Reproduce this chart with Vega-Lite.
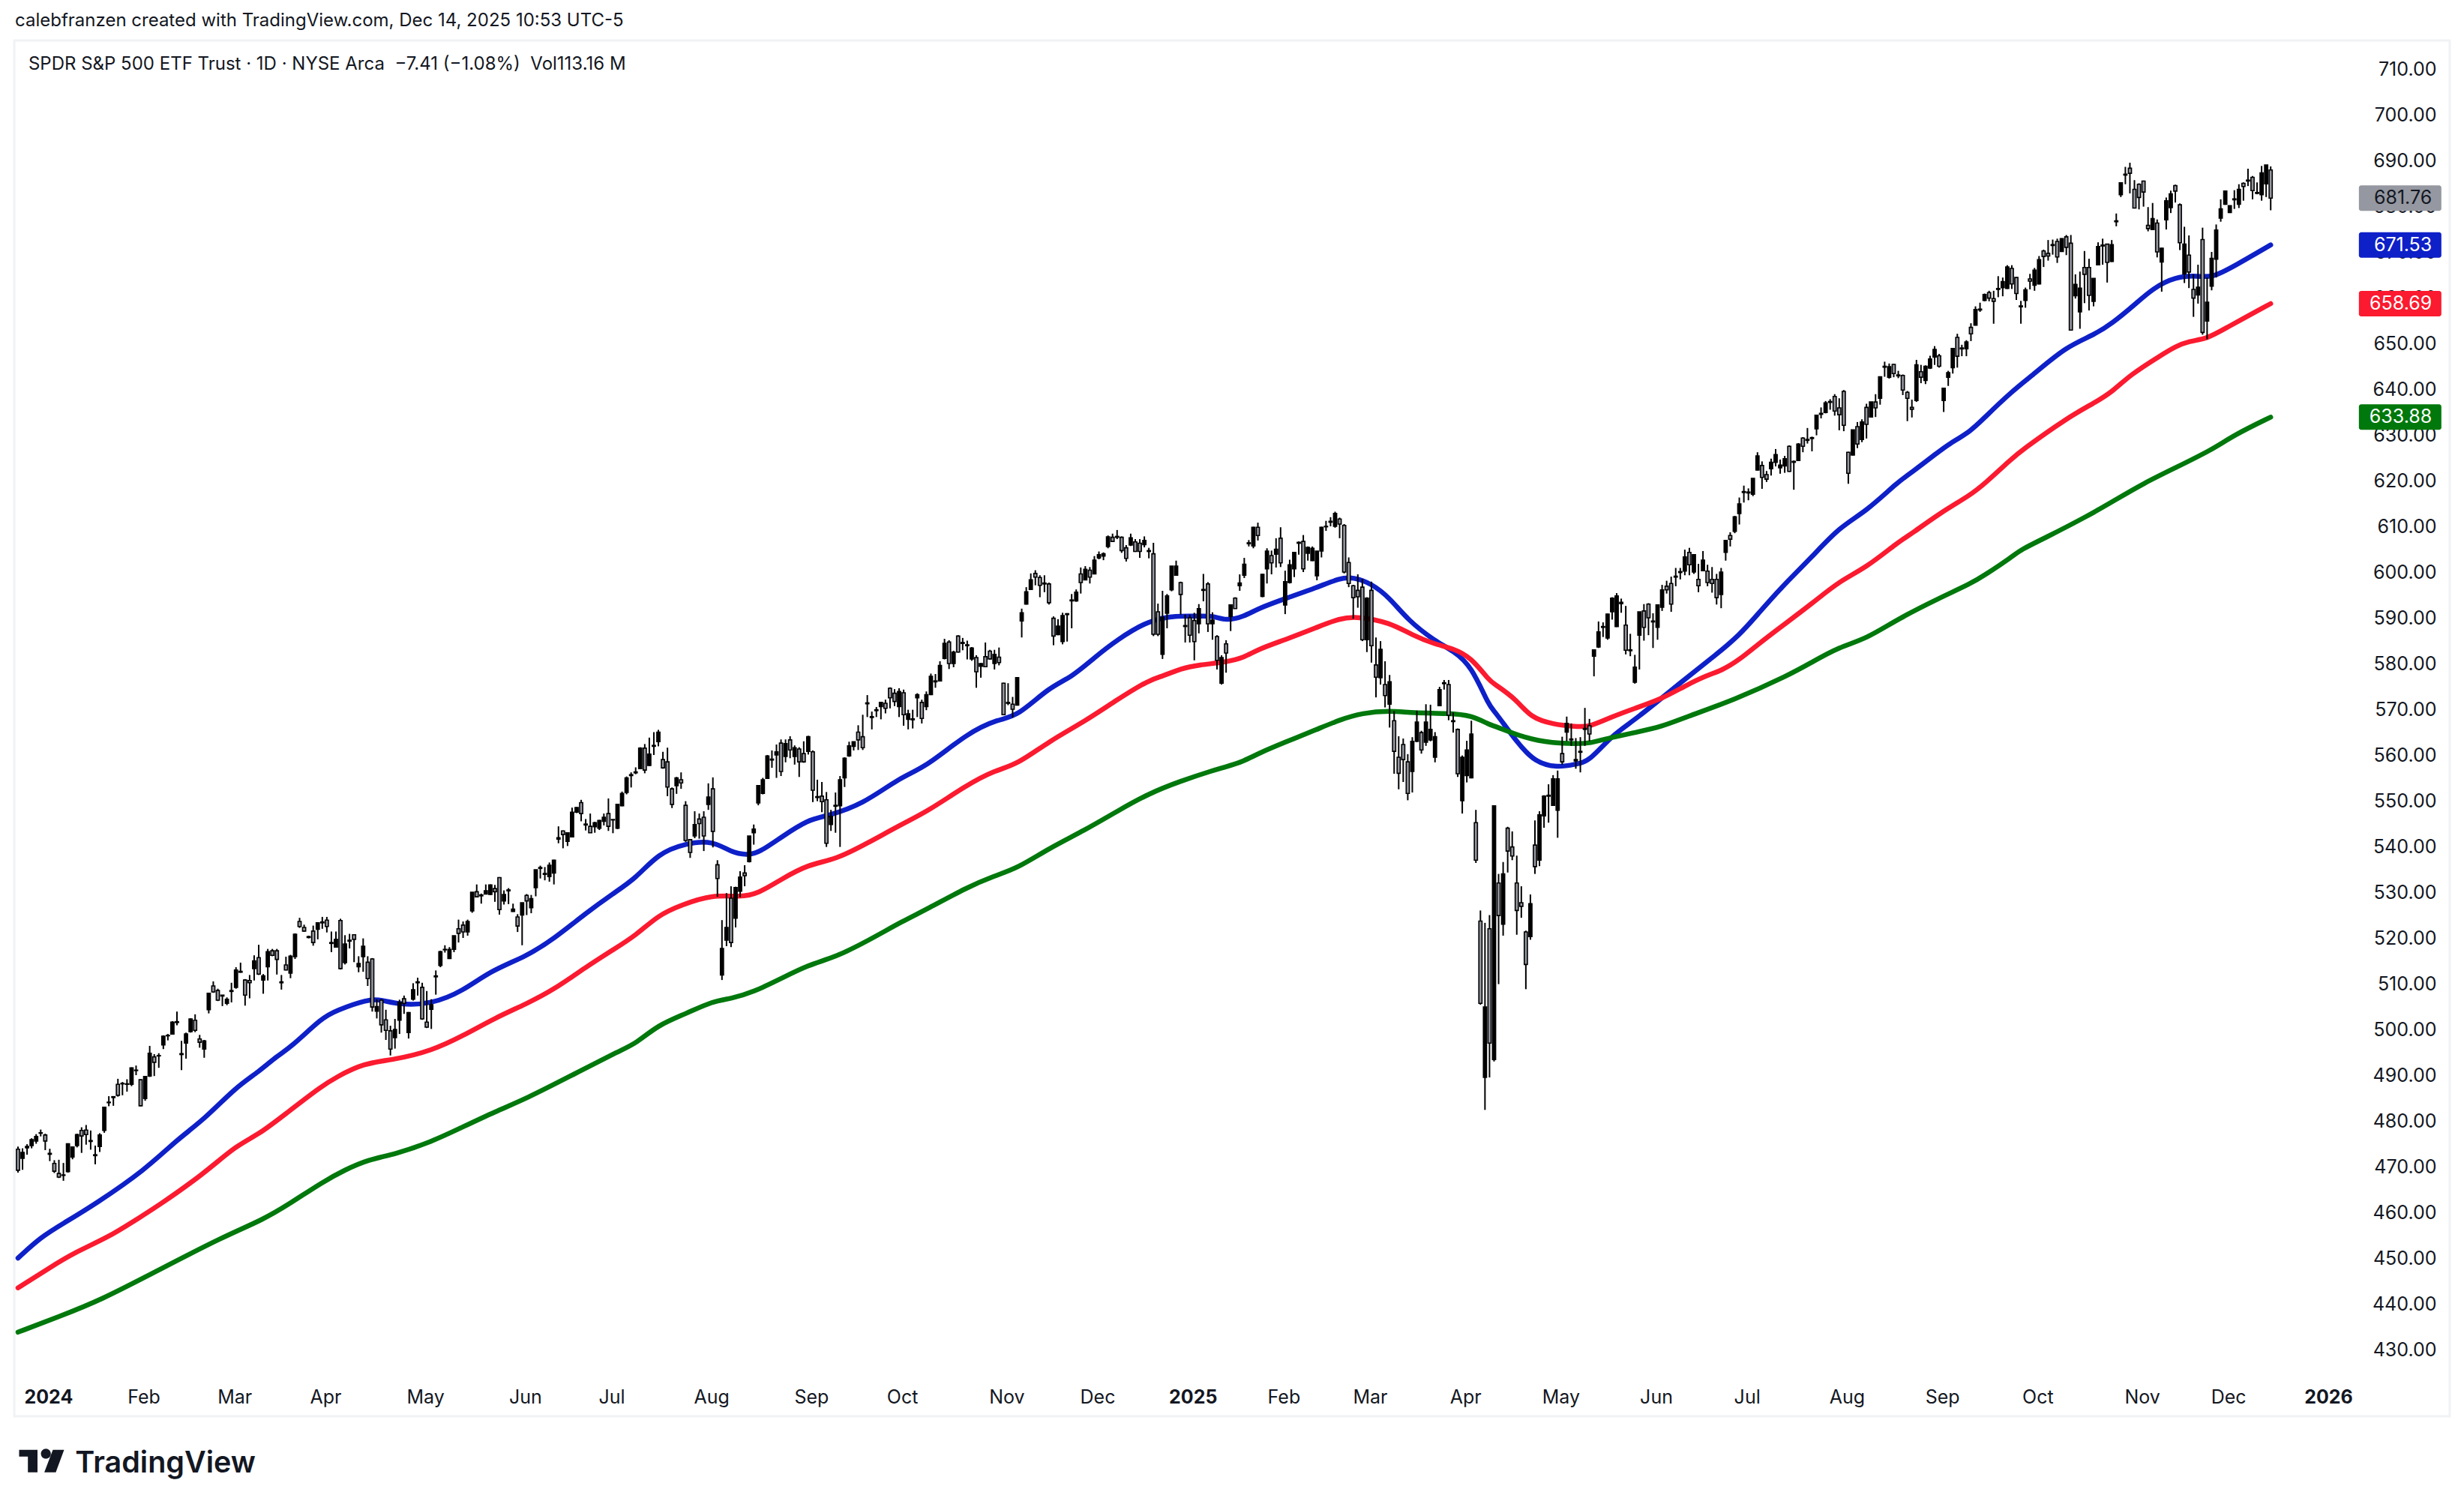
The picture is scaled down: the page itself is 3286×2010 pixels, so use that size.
{
"$schema":"https://vega.github.io/schema/vega-lite/v6.json",
"autosize":{"type":"none"},
"padding":{"left":19,"top":54,"right":19,"bottom":121},
"width":3248,
"height":1835,
"background":"white",
"title":{"text":"calebfranzen created with TradingView.com, Dec 14, 2025 10:53 UTC-5","anchor":"start","frame":"group","font":"Inter","fontSize":24,"fontWeight":"normal","color":"#131722","offset":14,"dx":1},
"config":{"view":{"stroke":"#f1f2f4","strokeWidth":3},"text":{"font":"Inter"}},
"datasets":{
"blue":[{"i":0,"v":450},{"i":5,"v":454.6},{"i":10,"v":457.6},{"i":17,"v":461.8},{"i":28,"v":469.3},{"i":35,"v":475.9},{"i":41,"v":480.3},{"i":48,"v":487.4},{"i":53,"v":490.7},{"i":57,"v":494.2},{"i":60,"v":496},{"i":67,"v":502.6},{"i":70,"v":504.1},{"i":77,"v":506.6},{"i":80,"v":506.5},{"i":84,"v":505.4},{"i":91,"v":505.5},{"i":98,"v":508.4},{"i":104,"v":512.8},{"i":112,"v":516},{"i":118,"v":519.8},{"i":125,"v":525.4},{"i":131,"v":529.7},{"i":136,"v":533},{"i":141,"v":538.5},{"i":147,"v":540.7},{"i":153,"v":541.3},{"i":157,"v":538.7},{"i":161,"v":538},{"i":164,"v":539.2},{"i":168,"v":542},{"i":174,"v":545.9},{"i":178,"v":546.6},{"i":186,"v":549.2},{"i":194,"v":555},{"i":200,"v":557.4},{"i":209,"v":564.8},{"i":216,"v":567.9},{"i":220,"v":568.4},{"i":227,"v":574.8},{"i":232,"v":577},{"i":237,"v":581.3},{"i":242,"v":585.2},{"i":249,"v":589.5},{"i":255,"v":590.5},{"i":260,"v":590.3},{"i":263,"v":590.5},{"i":266,"v":589.3},{"i":270,"v":590.3},{"i":273,"v":592},{"i":279,"v":594.2},{"i":286,"v":596.6},{"i":291,"v":598.7},{"i":294,"v":598.9},{"i":298,"v":597.5},{"i":302,"v":594.4},{"i":306,"v":589.5},{"i":312,"v":584.9},{"i":316,"v":582.8},{"i":320,"v":579.5},{"i":324,"v":570.5},{"i":325,"v":569.8},{"i":330,"v":562.8},{"i":334,"v":558.4},{"i":339,"v":557.2},{"i":343,"v":558},{"i":346,"v":558.6},{"i":351,"v":564.4},{"i":356,"v":567.6},{"i":367,"v":576.6},{"i":374,"v":582},{"i":379,"v":586.2},{"i":383,"v":590.7},{"i":388,"v":596.4},{"i":395,"v":603.3},{"i":401,"v":609.8},{"i":407,"v":613.3},{"i":414,"v":619.8},{"i":417,"v":621.8},{"i":423,"v":626.4},{"i":425,"v":627.9},{"i":430,"v":630.8},{"i":433,"v":633.8},{"i":439,"v":639.5},{"i":444,"v":643.4},{"i":451,"v":649.3},{"i":457,"v":651.8},{"i":461,"v":654.3},{"i":466,"v":658.4},{"i":470,"v":662},{"i":475,"v":664.6},{"i":480,"v":664.8},{"i":483,"v":664.3},{"i":488,"v":666.9},{"i":496,"v":671.53}],
"red":[{"i":0,"v":443.5},{"i":7,"v":447.9},{"i":12,"v":451},{"i":20,"v":454.6},{"i":26,"v":458.4},{"i":31,"v":461.5},{"i":41,"v":468.5},{"i":48,"v":474.6},{"i":53,"v":477},{"i":59,"v":481.6},{"i":67,"v":487.7},{"i":70,"v":489.5},{"i":76,"v":492.6},{"i":83,"v":493.4},{"i":91,"v":495.3},{"i":98,"v":498.6},{"i":105,"v":502.5},{"i":112,"v":505.6},{"i":118,"v":508.7},{"i":125,"v":513.6},{"i":131,"v":517.4},{"i":136,"v":520.5},{"i":141,"v":525},{"i":146,"v":527.2},{"i":153,"v":529.5},{"i":159,"v":528.9},{"i":163,"v":529.7},{"i":168,"v":532.8},{"i":174,"v":536.1},{"i":180,"v":537.1},{"i":187,"v":540.7},{"i":195,"v":545.1},{"i":200,"v":547.5},{"i":209,"v":553.5},{"i":215,"v":556.6},{"i":220,"v":557.9},{"i":227,"v":563},{"i":235,"v":567.4},{"i":242,"v":572.1},{"i":249,"v":576.4},{"i":252,"v":577.2},{"i":256,"v":578.9},{"i":260,"v":579.7},{"i":266,"v":580.3},{"i":270,"v":581.3},{"i":273,"v":583.1},{"i":279,"v":585.2},{"i":286,"v":587.9},{"i":291,"v":589.9},{"i":295,"v":590.3},{"i":302,"v":589},{"i":307,"v":586.2},{"i":312,"v":584.2},{"i":316,"v":583.3},{"i":320,"v":581.3},{"i":324,"v":576.2},{"i":325,"v":575.6},{"i":330,"v":572.1},{"i":333,"v":568.2},{"i":338,"v":566.7},{"i":343,"v":566.2},{"i":346,"v":566.1},{"i":351,"v":568.4},{"i":356,"v":570.2},{"i":362,"v":572.3},{"i":367,"v":575.1},{"i":372,"v":577.5},{"i":375,"v":578.4},{"i":379,"v":580.8},{"i":383,"v":584.1},{"i":388,"v":587.9},{"i":395,"v":593.1},{"i":401,"v":598},{"i":407,"v":601},{"i":414,"v":606.6},{"i":417,"v":608.4},{"i":423,"v":612.8},{"i":430,"v":616.9},{"i":433,"v":619.3},{"i":439,"v":624.8},{"i":441,"v":626.5},{"i":451,"v":633.6},{"i":457,"v":636.9},{"i":461,"v":639.3},{"i":465,"v":643.1},{"i":472,"v":647.5},{"i":475,"v":649.3},{"i":478,"v":650.5},{"i":482,"v":651},{"i":486,"v":653.3},{"i":496,"v":658.69}],
"green":[{"i":0,"v":433.8},{"i":9,"v":437.2},{"i":18,"v":440.7},{"i":31,"v":447.4},{"i":45,"v":454.6},{"i":54,"v":458.4},{"i":60,"v":462},{"i":67,"v":466.6},{"i":72,"v":469.3},{"i":77,"v":471.5},{"i":83,"v":472.7},{"i":91,"v":475.4},{"i":98,"v":478.7},{"i":105,"v":482},{"i":112,"v":484.9},{"i":122,"v":490},{"i":133,"v":495.6},{"i":136,"v":496.9},{"i":141,"v":501},{"i":147,"v":503.4},{"i":153,"v":506.2},{"i":157,"v":506.7},{"i":162,"v":508.2},{"i":168,"v":511.1},{"i":174,"v":514.1},{"i":180,"v":515.8},{"i":187,"v":519.3},{"i":195,"v":523.8},{"i":200,"v":526.2},{"i":209,"v":531.1},{"i":215,"v":533.6},{"i":220,"v":535.2},{"i":227,"v":539.6},{"i":235,"v":543.6},{"i":242,"v":547.7},{"i":249,"v":551.6},{"i":256,"v":554.3},{"i":263,"v":556.6},{"i":266,"v":557.4},{"i":270,"v":558.7},{"i":273,"v":560.3},{"i":279,"v":562.8},{"i":286,"v":565.6},{"i":291,"v":567.7},{"i":296,"v":569.2},{"i":302,"v":569.7},{"i":307,"v":569.2},{"i":315,"v":569.1},{"i":320,"v":568.7},{"i":324,"v":566.6},{"i":325,"v":566.4},{"i":332,"v":563.6},{"i":338,"v":562.6},{"i":343,"v":562.5},{"i":346,"v":562.5},{"i":351,"v":563.9},{"i":356,"v":564.9},{"i":362,"v":566.2},{"i":367,"v":568.2},{"i":378,"v":572.1},{"i":390,"v":577.5},{"i":395,"v":580.3},{"i":401,"v":583.6},{"i":407,"v":585.4},{"i":414,"v":589.8},{"i":423,"v":594.3},{"i":430,"v":597.5},{"i":433,"v":599.3},{"i":439,"v":603.3},{"i":441,"v":604.9},{"i":446,"v":607.3},{"i":456,"v":612.4},{"i":462,"v":615.9},{"i":468,"v":619.4},{"i":475,"v":622.8},{"i":483,"v":626.7},{"i":488,"v":630},{"i":496,"v":633.88}],
"tags":[{"series":"price","value":681.76},{"series":"blue","value":671.53},{"series":"red","value":658.69},{"series":"green","value":633.88}],
"candles":[
{"i":0,"o":473.8,"h":474.4,"l":468.7,"c":469.2},{"i":1,"o":471.8,"h":474,"l":469.3,"c":473.1},{"i":2,"o":474.1,"h":474.9,"l":472.6,"c":474.4},{"i":3,"o":474.6,"h":476.2,"l":474,"c":475.9},{"i":4,"o":475.6,"h":477.1,"l":475,"c":476.6},{"i":5,"o":477.3,"h":478.1,"l":476.6,"c":477.4},{"i":6,"o":476.9,"h":477.2,"l":473.6,"c":475.6},{"i":7,"o":472.7,"h":473.9,"l":471.2,"c":472.9},{"i":8,"o":470.7,"h":471.4,"l":468.6,"c":469},{"i":9,"o":468.5,"h":471.5,"l":467.5,"c":467.7},
{"i":10,"o":468.2,"h":470.8,"l":466.9,"c":468.1},{"i":11,"o":468.9,"h":475.1,"l":468.7,"c":475},{"i":12,"o":472.1,"h":474.4,"l":471.6,"c":474.3},{"i":13,"o":474.6,"h":477.2,"l":474.2,"c":477},{"i":14,"o":477.9,"h":478.6,"l":473,"c":476.7},{"i":15,"o":478,"h":479.1,"l":474.8,"c":477},{"i":16,"o":475.7,"h":477.9,"l":473.7,"c":475.5},{"i":17,"o":472.4,"h":474.6,"l":470.5,"c":472.6},{"i":18,"o":474.4,"h":477.3,"l":473.2,"c":476.9},{"i":19,"o":477.9,"h":483.1,"l":477.4,"c":483},
{"i":20,"o":484,"h":485.4,"l":483.2,"c":484.1},{"i":21,"o":485.1,"h":485.4,"l":483.3,"c":485.3},{"i":22,"o":488,"h":489.2,"l":485.3,"c":485.6},{"i":23,"o":488.1,"h":488.5,"l":485.6,"c":488.2},{"i":24,"o":488,"h":489.1,"l":486.4,"c":488.1},{"i":25,"o":488,"h":491.7,"l":487.6,"c":491.6},{"i":26,"o":491.1,"h":492.1,"l":490,"c":491},{"i":27,"o":489,"h":489.1,"l":483.2,"c":483.3},{"i":28,"o":484.9,"h":489.8,"l":484.4,"c":489.7},{"i":29,"o":489.8,"h":496.4,"l":489.6,"c":494.8},
{"i":30,"o":494,"h":494.6,"l":489.8,"c":492.8},{"i":31,"o":494.2,"h":494.8,"l":491.6,"c":494.3},{"i":32,"o":496.6,"h":498.7,"l":495.7,"c":498.5},{"i":33,"o":498.6,"h":499,"l":497.6,"c":498.7},{"i":34,"o":499,"h":501.8,"l":498.9,"c":501.6},{"i":35,"o":501.5,"h":503.9,"l":500.9,"c":501.7},{"i":36,"o":494.5,"h":497.5,"l":491.1,"c":494.7},{"i":37,"o":497,"h":499.3,"l":493.6,"c":499},{"i":38,"o":499.5,"h":502.4,"l":499.3,"c":502.3},{"i":39,"o":502,"h":503.3,"l":499.4,"c":499.8},
{"i":40,"o":497.9,"h":498.8,"l":496,"c":497.2},{"i":41,"o":495.7,"h":497.7,"l":493.8,"c":497.5},{"i":42,"o":504.3,"h":507.9,"l":503.5,"c":507.9},{"i":43,"o":509.5,"h":510.5,"l":508,"c":508.2},{"i":44,"o":508.5,"h":508.9,"l":506.2,"c":506.4},{"i":45,"o":507.3,"h":507.5,"l":505.1,"c":507.5},{"i":46,"o":505.7,"h":507,"l":505.3,"c":506.6},{"i":47,"o":508.3,"h":510.2,"l":505.9,"c":508.5},{"i":48,"o":509.2,"h":513.6,"l":508.9,"c":513},{"i":49,"o":512.5,"h":514.6,"l":512.4,"c":512.7},
{"i":50,"o":510.8,"h":511,"l":505.2,"c":507.5},{"i":51,"o":510.7,"h":511.9,"l":506.8,"c":510.2},{"i":52,"o":513.3,"h":516.2,"l":510.7,"c":515},{"i":53,"o":515.7,"h":518.5,"l":511.9,"c":512.1},{"i":54,"o":510.8,"h":512.1,"l":507.8,"c":511.7},{"i":55,"o":513.7,"h":517.6,"l":510.7,"c":517},{"i":56,"o":517.2,"h":517.6,"l":516,"c":516.2},{"i":57,"o":517.2,"h":517.6,"l":512,"c":515.3},{"i":58,"o":510.2,"h":511.9,"l":508.7,"c":510.4},{"i":59,"o":514.1,"h":515.9,"l":512.9,"c":513},
{"i":60,"o":512.3,"h":516.3,"l":511.2,"c":516},{"i":61,"o":515.9,"h":521,"l":515.4,"c":520.8},{"i":62,"o":523.6,"h":524.4,"l":522.2,"c":522.5},{"i":63,"o":522.3,"h":522.9,"l":521.4,"c":521.5},{"i":64,"o":520.3,"h":520.5,"l":519.9,"c":520.1},{"i":65,"o":521.5,"h":522.7,"l":518.3,"c":519},{"i":66,"o":521.9,"h":523.4,"l":519.7,"c":523.3},{"i":67,"o":523.3,"h":524.6,"l":522,"c":523.5},{"i":68,"o":523.9,"h":524.6,"l":521.2,"c":522.5},{"i":69,"o":518.8,"h":521.4,"l":516.9,"c":519},
{"i":70,"o":518,"h":521.4,"l":517.9,"c":519.7},{"i":71,"o":523.8,"h":524.2,"l":513.1,"c":513.3},{"i":72,"o":514.6,"h":520.6,"l":514.2,"c":518.7},{"i":73,"o":519.3,"h":520.9,"l":517.7,"c":519.5},{"i":74,"o":520.7,"h":520.8,"l":514.7,"c":519.7},{"i":75,"o":513.7,"h":516,"l":512.5,"c":514.4},{"i":76,"o":515.9,"h":519.9,"l":512.6,"c":518.2},{"i":77,"o":514.7,"h":516,"l":509.5,"c":511.1},{"i":78,"o":515.4,"h":515.6,"l":503.9,"c":504.9},{"i":79,"o":504,"h":506.6,"l":502.4,"c":505},
{"i":80,"o":506.4,"h":506.6,"l":499.3,"c":501},{"i":81,"o":502.1,"h":504.3,"l":497.7,"c":499.8},{"i":82,"o":499.7,"h":500.8,"l":494.3,"c":495.7},{"i":83,"o":498.2,"h":502.3,"l":495.8,"c":500},{"i":84,"o":502,"h":506.5,"l":499,"c":505.9},{"i":85,"o":506.7,"h":507.4,"l":503.4,"c":505.7},{"i":86,"o":499.3,"h":503.8,"l":498,"c":503.7},{"i":87,"o":506.6,"h":510.1,"l":506.3,"c":508.7},{"i":88,"o":510.2,"h":511.3,"l":507.4,"c":510.4},{"i":89,"o":509.2,"h":510.2,"l":502.1,"c":502.3},
{"i":90,"o":501.6,"h":508.4,"l":500.3,"c":500.5},{"i":91,"o":504.4,"h":506.6,"l":500.1,"c":505.4},{"i":92,"o":511.5,"h":512.9,"l":507.6,"c":511.7},{"i":93,"o":514,"h":517.2,"l":513.6,"c":517},{"i":94,"o":517.4,"h":518.4,"l":516.8,"c":517.5},{"i":95,"o":515.5,"h":518,"l":515.4,"c":517.5},{"i":96,"o":517.5,"h":520.5,"l":516.9,"c":520.5},{"i":97,"o":522,"h":524,"l":519,"c":521},{"i":98,"o":522.8,"h":523.6,"l":520,"c":521.3},{"i":99,"o":521.3,"h":524,"l":520.5,"c":523.6},
{"i":100,"o":525.9,"h":530,"l":525.5,"c":530},{"i":101,"o":530.1,"h":531.7,"l":528.9,"c":529},{"i":102,"o":529.2,"h":529.7,"l":527.5,"c":529.4},{"i":103,"o":529.6,"h":531.7,"l":529.5,"c":530.3},{"i":104,"o":529.5,"h":531.7,"l":529.4,"c":531.6},{"i":105,"o":530.8,"h":531.6,"l":527.9,"c":530.1},{"i":106,"o":533.2,"h":533.3,"l":525.1,"c":526.2},{"i":107,"o":528.1,"h":530.4,"l":527.3,"c":529.5},{"i":108,"o":530.3,"h":530.9,"l":527.4,"c":530.5},{"i":109,"o":525.8,"h":527.5,"l":525.7,"c":526.3},
{"i":110,"o":524.6,"h":525.2,"l":521.3,"c":522.6},{"i":111,"o":525,"h":527.7,"l":518.4,"c":527.7},{"i":112,"o":529.3,"h":529.6,"l":525,"c":528.1},{"i":113,"o":526.6,"h":529.4,"l":525.4,"c":528.6},{"i":114,"o":531,"h":534.9,"l":529.1,"c":534.9},{"i":115,"o":535.2,"h":535.8,"l":533,"c":535.4},{"i":116,"o":533.9,"h":535.5,"l":532.6,"c":534.1},{"i":117,"o":533.4,"h":536.5,"l":532.3,"c":535.9},{"i":118,"o":534.2,"h":537.1,"l":531.7,"c":537},{"i":119,"o":541.6,"h":544.4,"l":540.7,"c":541.9},
{"i":120,"o":543.4,"h":543.5,"l":539.6,"c":542.6},{"i":121,"o":541.1,"h":543.1,"l":540.1,"c":543},{"i":122,"o":542.1,"h":548.5,"l":542,"c":547.5},{"i":123,"o":547.5,"h":548.6,"l":547.3,"c":548.5},{"i":124,"o":549.6,"h":550.2,"l":545.5,"c":547.2},{"i":125,"o":544.7,"h":546,"l":543.5,"c":544.9},{"i":126,"o":544.4,"h":547.2,"l":543,"c":543},{"i":127,"o":544.3,"h":545.4,"l":543,"c":545.2},{"i":128,"o":544,"h":545.8,"l":543.6,"c":545.7},{"i":129,"o":545.5,"h":547.2,"l":544.6,"c":546.4},
{"i":130,"o":547.2,"h":550.5,"l":543.4,"c":544.4},{"i":131,"o":545.8,"h":545.9,"l":542.9,"c":545.9},{"i":132,"o":544,"h":549.3,"l":543.8,"c":549.2},{"i":133,"o":548.9,"h":552,"l":548.8,"c":551.6},{"i":134,"o":551.8,"h":555.3,"l":551.4,"c":555},{"i":135,"o":555.5,"h":556.2,"l":552.9,"c":555.7},{"i":136,"o":556.1,"h":557.3,"l":555.8,"c":556.3},{"i":137,"o":557,"h":561.7,"l":556.9,"c":561.5},{"i":138,"o":561.5,"h":562.4,"l":556,"c":556.7},{"i":139,"o":557.7,"h":563.8,"l":557.6,"c":560.2},
{"i":140,"o":561.9,"h":565,"l":560,"c":562.1},{"i":141,"o":562.9,"h":565.5,"l":561.9,"c":565},{"i":142,"o":559,"h":560.7,"l":557,"c":557.2},{"i":143,"o":558.5,"h":561.6,"l":551,"c":553},{"i":144,"o":552.6,"h":552.9,"l":548.4,"c":549.2},{"i":145,"o":553.3,"h":555.2,"l":551.5,"c":555},{"i":146,"o":554.6,"h":556.2,"l":552.6,"c":553.9},{"i":147,"o":549,"h":549.9,"l":541,"c":541.3},{"i":148,"o":541.5,"h":541.6,"l":537.5,"c":538.7},{"i":149,"o":542.3,"h":547.7,"l":541.8,"c":544.8},
{"i":150,"o":546,"h":547.2,"l":541.7,"c":545},{"i":151,"o":546.4,"h":547.7,"l":539,"c":542.3},{"i":152,"o":549.2,"h":553.8,"l":548,"c":550.8},{"i":153,"o":552.6,"h":555.1,"l":539.8,"c":543.3},{"i":154,"o":536,"h":537,"l":529,"c":533},{"i":155,"o":511.9,"h":523.9,"l":510.8,"c":517.7},{"i":156,"o":519.5,"h":529.8,"l":518.2,"c":522.3},{"i":157,"o":528.7,"h":531.3,"l":518,"c":519},{"i":158,"o":524.3,"h":531.2,"l":522.3,"c":531},{"i":159,"o":530.2,"h":534.6,"l":528.9,"c":533.3},
{"i":160,"o":534.2,"h":535.9,"l":531.3,"c":533.6},{"i":161,"o":536.7,"h":542.3,"l":536.5,"c":542.3},{"i":162,"o":543,"h":544.8,"l":540.4,"c":543.8},{"i":163,"o":549.5,"h":553.4,"l":549,"c":553.3},{"i":164,"o":551.6,"h":555,"l":551.4,"c":554.6},{"i":165,"o":554.9,"h":560,"l":554.8,"c":559.8},{"i":166,"o":558.9,"h":561,"l":557.2,"c":559.1},{"i":167,"o":560,"h":562.3,"l":555,"c":560.7},{"i":168,"o":562.6,"h":563.4,"l":555.4,"c":556.4},{"i":169,"o":559.7,"h":563.4,"l":558.4,"c":562.5},
{"i":170,"o":563.3,"h":564.1,"l":559.3,"c":561.1},{"i":171,"o":559.7,"h":562.1,"l":557.9,"c":561.6},{"i":172,"o":561.3,"h":561.7,"l":555.2,"c":558.5},{"i":173,"o":560.3,"h":563,"l":558.3,"c":558.5},{"i":174,"o":560.8,"h":564.2,"l":560.1,"c":564},{"i":175,"o":560.7,"h":561,"l":549.7,"c":552.3},{"i":176,"o":550.7,"h":554.6,"l":549.9,"c":550.9},{"i":177,"o":551,"h":554.1,"l":547.5,"c":549.8},{"i":178,"o":550.2,"h":551.9,"l":539.9,"c":540.7},{"i":179,"o":544.8,"h":548,"l":543.4,"c":546.6},
{"i":180,"o":548.8,"h":551.8,"l":543,"c":549},{"i":181,"o":548.9,"h":555.4,"l":539.9,"c":554.6},{"i":182,"o":555,"h":559.5,"l":553,"c":559.3},{"i":183,"o":559.8,"h":562.9,"l":559.6,"c":562},{"i":184,"o":561.9,"h":562.9,"l":561,"c":562.9},{"i":185,"o":565,"h":566.5,"l":561.1,"c":563.3},{"i":186,"o":564,"h":568.8,"l":561.1,"c":561.6},{"i":187,"o":571.2,"h":573.1,"l":568.3,"c":571.4},{"i":188,"o":568.2,"h":569.5,"l":565.6,"c":568.4},{"i":189,"o":569.7,"h":570.5,"l":568.3,"c":569.9},
{"i":190,"o":570.6,"h":571.5,"l":567.8,"c":571.5},{"i":191,"o":571.3,"h":572.1,"l":569.1,"c":570.2},{"i":192,"o":574.6,"h":574.8,"l":570.2,"c":572.5},{"i":193,"o":573.5,"h":574.4,"l":570.7,"c":571.7},{"i":194,"o":570.6,"h":574.6,"l":568.3,"c":573.9},{"i":195,"o":573.6,"h":574.3,"l":566.4,"c":568.8},{"i":196,"o":567.8,"h":569.9,"l":565.6,"c":569},{"i":197,"o":567.7,"h":569.9,"l":565.8,"c":567.9},{"i":198,"o":572.5,"h":573.5,"l":568.3,"c":573.2},{"i":199,"o":571.5,"h":572.1,"l":566.9,"c":568},
{"i":200,"o":570.6,"h":573.9,"l":569.8,"c":573.2},{"i":201,"o":573.2,"h":577.8,"l":573.1,"c":577.2},{"i":202,"o":576,"h":577.7,"l":574.7,"c":576.2},{"i":203,"o":576.2,"h":580.5,"l":576.1,"c":579.6},{"i":204,"o":581.1,"h":585.4,"l":580.9,"c":584.4},{"i":205,"o":584.7,"h":585.1,"l":578.8,"c":580},{"i":206,"o":580,"h":582.8,"l":579.2,"c":582.5},{"i":207,"o":586,"h":586.2,"l":582.4,"c":582.5},{"i":208,"o":584.4,"h":585.6,"l":582.9,"c":584.6},{"i":209,"o":583.9,"h":585,"l":580.9,"c":584.1},
{"i":210,"o":581,"h":583.6,"l":580.6,"c":583.4},{"i":211,"o":581.3,"h":581.8,"l":574.7,"c":578.2},{"i":212,"o":579.4,"h":580.1,"l":576.9,"c":580},{"i":213,"o":581.5,"h":584.6,"l":579.2,"c":579.3},{"i":214,"o":582.7,"h":583,"l":580.9,"c":581},{"i":215,"o":580,"h":583,"l":578.7,"c":582},{"i":216,"o":581.4,"h":583.5,"l":579.6,"c":580.2},{"i":217,"o":575.7,"h":575.8,"l":568.7,"c":568.8},{"i":218,"o":571.3,"h":575.7,"l":570.9,"c":571.5},{"i":219,"o":571.1,"h":572.7,"l":568.2,"c":570},
{"i":220,"o":570.9,"h":576.9,"l":570.8,"c":576.9},{"i":221,"o":589.3,"h":592,"l":585.7,"c":591.1},{"i":222,"o":593,"h":596.7,"l":592.9,"c":595.7},{"i":223,"o":596.2,"h":599.7,"l":596.1,"c":598.3},{"i":224,"o":599.7,"h":600.4,"l":597.1,"c":598.9},{"i":225,"o":598.8,"h":599.3,"l":594.5,"c":597.1},{"i":226,"o":597.4,"h":599.3,"l":595.6,"c":597.6},{"i":227,"o":597.4,"h":597.7,"l":592.9,"c":593.3},{"i":228,"o":589.9,"h":590.3,"l":584,"c":586},{"i":229,"o":586.3,"h":589.7,"l":586.2,"c":588.2},
{"i":230,"o":584.8,"h":591.1,"l":584.2,"c":590.5},{"i":231,"o":590.7,"h":591,"l":584.8,"c":590.9},{"i":232,"o":593.7,"h":595.2,"l":587.7,"c":593.9},{"i":233,"o":593.7,"h":596.2,"l":593.5,"c":595.6},{"i":234,"o":599.6,"h":601,"l":595.3,"c":597.7},{"i":235,"o":598.3,"h":601.3,"l":598.2,"c":600.6},{"i":236,"o":600.4,"h":601.1,"l":597.5,"c":598.9},{"i":237,"o":599.6,"h":603.5,"l":599.5,"c":602.6},{"i":238,"o":603.1,"h":604.5,"l":602.8,"c":603.8},{"i":239,"o":603.5,"h":604.3,"l":602.6,"c":604},
{"i":240,"o":605.6,"h":608,"l":605.2,"c":607.7},{"i":241,"o":607.6,"h":608.4,"l":606.6,"c":606.7},{"i":242,"o":607.6,"h":609.2,"l":607.2,"c":607.8},{"i":243,"o":607.6,"h":607.8,"l":604.2,"c":604.7},{"i":244,"o":605.3,"h":605.9,"l":602.3,"c":603},{"i":245,"o":605.9,"h":608.4,"l":605.7,"c":607.5},{"i":246,"o":606.6,"h":607.2,"l":604.4,"c":604.5},{"i":247,"o":606.3,"h":607.2,"l":603.1,"c":604.5},{"i":248,"o":606,"h":607.8,"l":605.4,"c":606.9},{"i":249,"o":604.5,"h":605.3,"l":603,"c":604.7},
{"i":250,"o":604,"h":606.4,"l":586,"c":586.4},{"i":251,"o":591.3,"h":593.1,"l":586,"c":586.4},{"i":252,"o":582,"h":595.9,"l":581,"c":590.1},{"i":253,"o":591,"h":595.2,"l":587.7,"c":594.8},{"i":254,"o":596.1,"h":601.3,"l":595.8,"c":601.3},{"i":255,"o":599.3,"h":602.5,"l":599.2,"c":601.3},{"i":256,"o":597.7,"h":597.9,"l":590.7,"c":595.1},{"i":257,"o":588.1,"h":590.7,"l":584.6,"c":588.3},{"i":258,"o":590,"h":590.7,"l":584.6,"c":586.2},{"i":259,"o":589.4,"h":591.1,"l":580.7,"c":584.8},
{"i":260,"o":588.7,"h":593,"l":586.6,"c":592},{"i":261,"o":596,"h":599.6,"l":593.6,"c":596.2},{"i":262,"o":597.4,"h":597.8,"l":586.9,"c":588.7},{"i":263,"o":588.7,"h":591.2,"l":585.2,"c":589.5},{"i":264,"o":585.9,"h":586.2,"l":578.7,"c":580.7},{"i":265,"o":575.7,"h":581.8,"l":575.4,"c":581.3},{"i":266,"o":584.3,"h":585.1,"l":578,"c":582.3},{"i":267,"o":590.3,"h":592.9,"l":587.1,"c":592.8},{"i":268,"o":594.3,"h":594.5,"l":592,"c":592},{"i":269,"o":597,"h":599.5,"l":595.9,"c":597.6},
{"i":270,"o":599.3,"h":603.1,"l":598.7,"c":601.7},{"i":271,"o":606.2,"h":607,"l":605.6,"c":606.4},{"i":272,"o":605.7,"h":609.9,"l":605.2,"c":609.8},{"i":273,"o":609.8,"h":610.8,"l":606.9,"c":608},{"i":274,"o":594.7,"h":599.6,"l":594.5,"c":599.5},{"i":275,"o":600.7,"h":605.2,"l":597.5,"c":604.6},{"i":276,"o":603.6,"h":604.7,"l":599.5,"c":602},{"i":277,"o":603.9,"h":607.4,"l":601,"c":605},{"i":278,"o":607.4,"h":609.8,"l":601.1,"c":602},{"i":279,"o":592.8,"h":600.3,"l":590.8,"c":597.9},
{"i":280,"o":597.7,"h":602.7,"l":597.5,"c":601.6},{"i":281,"o":600.7,"h":604.4,"l":598.9,"c":604.3},{"i":282,"o":606.3,"h":606.7,"l":603.8,"c":606.5},{"i":283,"o":606.7,"h":608.1,"l":600,"c":600.7},{"i":284,"o":604.1,"h":605.6,"l":602.5,"c":605.4},{"i":285,"o":602.5,"h":605.6,"l":602.4,"c":605.2},{"i":286,"o":599.2,"h":604.6,"l":598.2,"c":604.6},{"i":287,"o":604.6,"h":609.9,"l":603.2,"c":609.8},{"i":288,"o":609.9,"h":611.2,"l":609,"c":610},{"i":289,"o":610.9,"h":612,"l":610,"c":611.1},
{"i":290,"o":610,"h":613.2,"l":609.7,"c":612.8},{"i":291,"o":611.6,"h":611.9,"l":607.4,"c":610.5},{"i":292,"o":610.2,"h":610.5,"l":599.7,"c":600},{"i":293,"o":602.1,"h":603.2,"l":596.7,"c":597.5},{"i":294,"o":597,"h":597.2,"l":589.8,"c":594.4},{"i":295,"o":596,"h":599.5,"l":592.2,"c":594.6},{"i":296,"o":596.7,"h":598.5,"l":584.9,"c":585.2},{"i":297,"o":585.2,"h":594.5,"l":582.5,"c":594.3},{"i":298,"o":596,"h":597.9,"l":580.2,"c":583.9},{"i":299,"o":579.7,"h":585.7,"l":572.6,"c":577},
{"i":300,"o":576.9,"h":584.9,"l":575.4,"c":583.1},{"i":301,"o":575.4,"h":580.5,"l":570.4,"c":573},{"i":302,"o":571.1,"h":577.5,"l":566,"c":576},{"i":303,"o":567.5,"h":569.6,"l":555.9,"c":560.8},{"i":304,"o":559.5,"h":564.1,"l":552.5,"c":556},{"i":305,"o":562.3,"h":563.6,"l":554.1,"c":559},{"i":306,"o":558.5,"h":560.2,"l":550.1,"c":551.6},{"i":307,"o":556.4,"h":563.9,"l":551.8,"c":563},{"i":308,"o":563,"h":569.7,"l":562.8,"c":567.2},{"i":309,"o":564.9,"h":565.3,"l":560.3,"c":561.1},
{"i":310,"o":562.8,"h":571.1,"l":562,"c":567.2},{"i":311,"o":563.3,"h":571,"l":563,"c":565.6},{"i":312,"o":559.5,"h":565,"l":558.4,"c":564},{"i":313,"o":570.8,"h":574.9,"l":570.7,"c":574.3},{"i":314,"o":575.6,"h":576.4,"l":574.3,"c":575.8},{"i":315,"o":575.4,"h":576.4,"l":567.6,"c":568.7},{"i":316,"o":567.3,"h":569.3,"l":564.9,"c":567.5},{"i":317,"o":565.6,"h":565.8,"l":555.2,"c":555.9},{"i":318,"o":550,"h":559.9,"l":547.2,"c":559.5},{"i":319,"o":555.5,"h":563.1,"l":554,"c":561.1},
{"i":320,"o":555,"h":567.5,"l":554.9,"c":564.6},{"i":321,"o":545.2,"h":548,"l":536.4,"c":537},{"i":322,"o":523.7,"h":526,"l":505.4,"c":505.7},{"i":323,"o":489.5,"h":523.3,"l":482.4,"c":504.9},{"i":324,"o":522,"h":525,"l":489.5,"c":497},{"i":325,"o":493.4,"h":548.9,"l":493,"c":548.9},{"i":326,"o":532,"h":534,"l":509.9,"c":524.9},{"i":327,"o":523,"h":536.6,"l":520.5,"c":534},{"i":328,"o":544,"h":544.3,"l":534.3,"c":539},{"i":329,"o":539.9,"h":543.3,"l":537,"c":537.9},
{"i":330,"o":532,"h":538,"l":520.7,"c":526},{"i":331,"o":527.7,"h":531.3,"l":524.4,"c":526.9},{"i":332,"o":521.3,"h":521.6,"l":508.8,"c":514.2},{"i":333,"o":520.3,"h":529.5,"l":519.6,"c":527.5},{"i":334,"o":540.3,"h":545.7,"l":534,"c":535.6},{"i":335,"o":537,"h":547.7,"l":535.7,"c":546.9},{"i":336,"o":546.7,"h":551.2,"l":544.1,"c":551},{"i":337,"o":551,"h":553.6,"l":545.2,"c":551.2},{"i":338,"o":549,"h":555.6,"l":548.9,"c":554.8},{"i":339,"o":547.9,"h":556.6,"l":541.9,"c":554.8},
{"i":340,"o":560.3,"h":564,"l":557.9,"c":558.5},{"i":341,"o":565,"h":568.4,"l":563,"c":566.9},{"i":342,"o":563.3,"h":566.9,"l":562,"c":563.5},{"i":343,"o":558.7,"h":563.7,"l":557,"c":559},{"i":344,"o":560.6,"h":563.9,"l":556.2,"c":560.8},{"i":345,"o":565.6,"h":570.3,"l":562,"c":565.8},{"i":346,"o":566.4,"h":567.9,"l":563,"c":564.6},{"i":347,"o":581.6,"h":583,"l":577.2,"c":583},{"i":348,"o":583.6,"h":589.2,"l":583.4,"c":586.9},{"i":349,"o":587.9,"h":589,"l":585.8,"c":588.1},
{"i":350,"o":585.6,"h":590.9,"l":585.2,"c":590.8},{"i":351,"o":591.3,"h":594.5,"l":589.6,"c":594.3},{"i":352,"o":588.1,"h":595.4,"l":588,"c":594.8},{"i":353,"o":593.1,"h":594.2,"l":591.1,"c":593.4},{"i":354,"o":588.4,"h":592.6,"l":582,"c":582.9},{"i":355,"o":582.8,"h":586.5,"l":581.6,"c":583},{"i":356,"o":575.9,"h":581.9,"l":575.6,"c":579.2},{"i":357,"o":586.2,"h":591.3,"l":578.7,"c":591.3},{"i":358,"o":591.5,"h":593,"l":585,"c":587.9},{"i":359,"o":593,"h":593.2,"l":586.2,"c":590},
{"i":360,"o":589.1,"h":591,"l":583.4,"c":589.3},{"i":361,"o":587.9,"h":592.8,"l":585.2,"c":592.8},{"i":362,"o":592.3,"h":597.2,"l":591.5,"c":596.1},{"i":363,"o":596.9,"h":598.1,"l":595.3,"c":596.1},{"i":364,"o":597.5,"h":599,"l":591.3,"c":593},{"i":365,"o":598.9,"h":600.9,"l":596.9,"c":599.1},{"i":366,"o":599.9,"h":600.9,"l":598.4,"c":600.1},{"i":367,"o":600.2,"h":604.9,"l":599.3,"c":603.3},{"i":368,"o":604.3,"h":605.3,"l":599.3,"c":601.6},{"i":369,"o":600,"h":603.8,"l":599.6,"c":603.8},
{"i":370,"o":598.4,"h":601.8,"l":595.6,"c":597},{"i":371,"o":600.3,"h":604.6,"l":600.2,"c":602.6},{"i":372,"o":600.2,"h":601.6,"l":596.9,"c":597.7},{"i":373,"o":598.4,"h":601.1,"l":595.5,"c":597.5},{"i":374,"o":598.4,"h":599.6,"l":592.9,"c":594.4},{"i":375,"o":595.1,"h":600.9,"l":592.1,"c":600},{"i":376,"o":604.3,"h":606.9,"l":602.5,"c":606.9},{"i":377,"o":608,"h":608.7,"l":605.6,"c":607.2},{"i":378,"o":608.9,"h":612.3,"l":608.5,"c":612.1},{"i":379,"o":612.8,"h":616.3,"l":610.4,"c":614.9},
{"i":380,"o":617.4,"h":618.9,"l":615.2,"c":617.6},{"i":381,"o":617.3,"h":618.3,"l":615.7,"c":617.5},{"i":382,"o":617,"h":620.5,"l":616.6,"c":620.5},{"i":383,"o":622.3,"h":626.2,"l":622.2,"c":625.4},{"i":384,"o":623.3,"h":624.2,"l":618.2,"c":620.7},{"i":385,"o":621.3,"h":622.1,"l":619.7,"c":620.3},{"i":386,"o":622.6,"h":624.8,"l":621.1,"c":624},{"i":387,"o":624,"h":626.9,"l":623.1,"c":625.7},{"i":388,"o":622.8,"h":624.6,"l":621.5,"c":623.4},{"i":389,"o":623.2,"h":625.4,"l":621.7,"c":624.8},
{"i":390,"o":627.5,"h":627.7,"l":621.9,"c":622},{"i":391,"o":624,"h":624.4,"l":618,"c":624.2},{"i":392,"o":624.4,"h":628.2,"l":624.3,"c":628},{"i":393,"o":629.3,"h":629.5,"l":626.2,"c":627.5},{"i":394,"o":628.8,"h":631.5,"l":628.1,"c":629},{"i":395,"o":629.2,"h":629.6,"l":626.4,"c":629.4},{"i":396,"o":631.3,"h":634.3,"l":629.9,"c":634.3},{"i":397,"o":634.5,"h":636,"l":633.6,"c":634.7},{"i":398,"o":634.9,"h":637.4,"l":634.7,"c":637},{"i":399,"o":637.1,"h":637.8,"l":635.5,"c":637.3},
{"i":400,"o":638.4,"h":638.9,"l":634.2,"c":635.2},{"i":401,"o":635.9,"h":638,"l":631,"c":634.4},{"i":402,"o":639.5,"h":639.8,"l":630.8,"c":632.1},{"i":403,"o":626.2,"h":626.3,"l":619.3,"c":621.6},{"i":404,"o":625.6,"h":631.1,"l":625.5,"c":631.1},{"i":405,"o":631.8,"h":632.8,"l":627.1,"c":628},{"i":406,"o":629,"h":633.4,"l":628.4,"c":632.8},{"i":407,"o":636,"h":636.8,"l":629.2,"c":632.3},{"i":408,"o":633.9,"h":637.2,"l":633.8,"c":637.2},{"i":409,"o":637.2,"h":638.9,"l":633.9,"c":635.9},
{"i":410,"o":638,"h":642.8,"l":636.6,"c":642.7},{"i":411,"o":644.8,"h":646,"l":642.7,"c":645},{"i":412,"o":642.6,"h":645.6,"l":642.3,"c":644.9},{"i":413,"o":645.4,"h":645.5,"l":642.6,"c":643.4},{"i":414,"o":642.9,"h":644,"l":642.4,"c":643.1},{"i":415,"o":643,"h":643.2,"l":638.7,"c":639.8},{"i":416,"o":639.3,"h":639.6,"l":633,"c":638},{"i":417,"o":636,"h":637.7,"l":633.8,"c":635.6},{"i":418,"o":637.5,"h":646.4,"l":637.2,"c":645.3},{"i":419,"o":643.8,"h":645.3,"l":641.3,"c":642.6},
{"i":420,"o":641.9,"h":645.2,"l":641.1,"c":645},{"i":421,"o":644.6,"h":647.3,"l":644.4,"c":646.6},{"i":422,"o":647,"h":649.4,"l":645.3,"c":648.7},{"i":423,"o":647.3,"h":647.7,"l":644.7,"c":645},{"i":424,"o":637.5,"h":640.3,"l":635,"c":640.2},{"i":425,"o":642.6,"h":644,"l":640.7,"c":643.6},{"i":426,"o":644.7,"h":648.9,"l":643.4,"c":648.9},{"i":427,"o":651.3,"h":652.1,"l":644.7,"c":647.2},{"i":428,"o":648.8,"h":649.7,"l":647.2,"c":649},{"i":429,"o":648.8,"h":650.7,"l":647.2,"c":650.3},
{"i":430,"o":653.5,"h":654.4,"l":650.5,"c":652.1},{"i":431,"o":654,"h":658.1,"l":653.9,"c":657.4},{"i":432,"o":657.3,"h":658.9,"l":656.9,"c":657.5},{"i":433,"o":659.4,"h":660.9,"l":659.2,"c":660.7},{"i":434,"o":661.1,"h":661.5,"l":659.2,"c":659.9},{"i":435,"o":659.8,"h":661.5,"l":654.3,"c":659.2},{"i":436,"o":661.8,"h":664.7,"l":660.1,"c":662},{"i":437,"o":662.2,"h":664.4,"l":660.3,"c":663.5},{"i":438,"o":662,"h":667.1,"l":661.9,"c":666.7},{"i":439,"o":666.4,"h":667.1,"l":661.9,"c":663},
{"i":440,"o":664.4,"h":664.5,"l":659.5,"c":660.9},{"i":441,"o":658,"h":659.3,"l":654.3,"c":658.2},{"i":442,"o":659.4,"h":662.2,"l":657.8,"c":661.7},{"i":443,"o":664.1,"h":665.2,"l":661.8,"c":663.6},{"i":444,"o":662.7,"h":666.5,"l":661.5,"c":666},{"i":445,"o":663,"h":669.1,"l":662.9,"c":668.3},{"i":446,"o":670.2,"h":670.5,"l":666.7,"c":669},{"i":447,"o":669.7,"h":672.6,"l":668.1,"c":669.1},{"i":448,"o":671.4,"h":672.7,"l":669.4,"c":671.6},{"i":449,"o":672.3,"h":672.9,"l":667.6,"c":668.9},
{"i":450,"o":670.1,"h":673,"l":670,"c":672.9},{"i":451,"o":673.3,"h":673.7,"l":669.3,"c":671},{"i":452,"o":671.9,"h":673.7,"l":652.8,"c":652.9},{"i":453,"o":660.4,"h":665.1,"l":659.8,"c":662.9},{"i":454,"o":656.9,"h":665.7,"l":653.2,"c":662.1},{"i":455,"o":666.6,"h":670.2,"l":658.8,"c":665.1},{"i":456,"o":666.6,"h":668.5,"l":657.2,"c":660.5},{"i":457,"o":659.2,"h":664.2,"l":658.1,"c":664.2},{"i":458,"o":667.2,"h":672.1,"l":667.1,"c":671.2},{"i":459,"o":671.3,"h":672.9,"l":667.2,"c":671.5},
{"i":460,"o":671.7,"h":671.8,"l":663.3,"c":667.7},{"i":461,"o":667.9,"h":672.6,"l":667.8,"c":671.6},{"i":462,"o":676.6,"h":678.4,"l":675.6,"c":676.8},{"i":463,"o":682.5,"h":685.2,"l":682,"c":685.1},{"i":464,"o":686.8,"h":688.6,"l":684.8,"c":687},{"i":465,"o":688.3,"h":689.5,"l":682.8,"c":687.2},{"i":466,"o":683.7,"h":685.7,"l":679.5,"c":679.6},{"i":467,"o":684.8,"h":685,"l":679.3,"c":681.9},{"i":468,"o":685.5,"h":685.6,"l":679.9,"c":683.1},{"i":469,"o":675.8,"h":679.8,"l":674.5,"c":675.1},
{"i":470,"o":674.9,"h":680.7,"l":674.8,"c":677.3},{"i":471,"o":676.3,"h":677.1,"l":668.8,"c":670},{"i":472,"o":667.8,"h":670.9,"l":661.3,"c":670.8},{"i":473,"o":677,"h":681.9,"l":674.9,"c":681.2},{"i":474,"o":679.7,"h":683.4,"l":678.5,"c":682.7},{"i":475,"o":684.5,"h":684.7,"l":680.8,"c":683.3},{"i":476,"o":680.3,"h":680.6,"l":670.4,"c":672},{"i":477,"o":665.2,"h":675.5,"l":663.2,"c":671.7},{"i":478,"o":669.3,"h":673.6,"l":662.1,"c":665.6},{"i":479,"o":661.8,"h":665.1,"l":655.8,"c":659.9},
{"i":480,"o":660.6,"h":667.2,"l":658.7,"c":662.3},{"i":481,"o":672.7,"h":675.3,"l":651.9,"c":652.4},{"i":482,"o":654.9,"h":664.4,"l":650.9,"c":659},{"i":483,"o":662.5,"h":670,"l":661.6,"c":668.6},{"i":484,"o":668.4,"h":676,"l":664.4,"c":674.8},{"i":485,"o":677.4,"h":681.5,"l":676.6,"c":679.4},{"i":486,"o":680.4,"h":683.4,"l":680.3,"c":683.3},{"i":487,"o":678.6,"h":680.1,"l":678.5,"c":680.1},{"i":488,"o":681.4,"h":683.5,"l":679.4,"c":681.6},{"i":489,"o":680.4,"h":684.8,"l":679.6,"c":683.7},
{"i":490,"o":685,"h":685.2,"l":681.2,"c":684.3},{"i":491,"o":685.5,"h":688.2,"l":684.4,"c":685.7},{"i":492,"o":686.3,"h":686.6,"l":681.5,"c":683.4},{"i":493,"o":682.8,"h":685.2,"l":682.6,"c":683},{"i":494,"o":682.5,"h":688.8,"l":681.2,"c":687.3},{"i":495,"o":684.9,"h":689,"l":682,"c":689},{"i":496,"o":687.9,"h":688.7,"l":679.1,"c":681.76}
]
},
"layer":[
{"data":{"name":"blue"},"mark":{"type":"line","color":"#0e20c8","strokeWidth":6.5,"interpolate":"basis","strokeCap":"round","clip":true},
 "encoding":{
  "x":{"field":"i","type":"quantitative","scale":{"domain":[0,534.6],"nice":false,"zero":false},"title":null,
   "axis":{"values":[7,28,48,68,90,112,131,153,175,195,218,238,259,279,298,319,340,361,381,403,424,445,468,487,509],
    "labelExpr":"['2024','Feb','Mar','Apr','May','Jun','Jul','Aug','Sep','Oct','Nov','Dec','2025','Feb','Mar','Apr','May','Jun','Jul','Aug','Sep','Oct','Nov','Dec','2026'][indexof([7,28,48,68,90,112,131,153,175,195,218,238,259,279,298,319,340,361,381,403,424,445,468,487,509],datum.value)]",
    "grid":false,"domain":false,"ticks":false,"labelFont":"Inter","labelFontSize":25,"labelColor":"#131722","labelBaseline":"middle","labelPadding":-26,"labelOffset":-2,"labelOverlap":false,"labelFlush":false,
    "labelFontWeight":{"condition":{"test":"datum.value==7||datum.value==259||datum.value==509","value":"bold"},"value":"normal"}}},
  "y":{"field":"v","type":"quantitative","scale":{"domain":[415.41,716.23],"nice":false,"zero":false},"title":null,
   "axis":{"orient":"right","values":[430,440,450,460,470,480,490,500,510,520,530,540,550,560,570,580,590,600,610,620,630,640,650,660,670,680,690,700,710],"format":".2f",
    "grid":false,"domain":false,"ticks":false,"labelFont":"Inter","labelFontSize":25,"labelColor":"#131722","labelAlign":"right","labelPadding":-18,"labelOverlap":false,"labelFlush":false}}
 }},
{"data":{"name":"green"},"mark":{"type":"line","color":"#00780c","strokeWidth":6.5,"interpolate":"basis","strokeCap":"round","clip":true},
 "encoding":{"x":{"field":"i","type":"quantitative"},"y":{"field":"v","type":"quantitative"}}},
{"data":{"name":"red"},"mark":{"type":"line","color":"#fb1a2f","strokeWidth":6.5,"interpolate":"basis","strokeCap":"round","clip":true},
 "encoding":{"x":{"field":"i","type":"quantitative"},"y":{"field":"v","type":"quantitative"}}},
{"data":{"name":"candles"},"mark":{"type":"rule","color":"#000000","strokeWidth":2,"clip":true},
 "encoding":{"x":{"field":"i","type":"quantitative"},"y":{"field":"l","type":"quantitative"},"y2":{"field":"h"}}},
{"data":{"name":"candles"},"mark":{"type":"bar","width":4.2,"stroke":"#000000","strokeWidth":1.6,"clip":true,"orient":"vertical"},
 "encoding":{"x":{"field":"i","type":"quantitative"},"y":{"field":"o","type":"quantitative"},"y2":{"field":"c"},
  "fill":{"condition":{"test":"datum.c<datum.o","value":"#9598a1"},"value":"#000000"}}},
{"data":{"name":"tags"},"mark":{"type":"rect","width":110,"height":34,"cornerRadius":3},
 "encoding":{"x":{"datum":524.5},"y":{"field":"value","type":"quantitative"},
  "color":{"field":"series","type":"nominal","legend":null,"scale":{"domain":["price","blue","red","green"],"range":["#9598a1","#0e20c8","#fb1a2f","#00780c"]}}}},
{"data":{"name":"tags"},"mark":{"type":"text","align":"right","baseline":"middle","font":"Inter","fontSize":25},
 "encoding":{"x":{"datum":531.5},"y":{"field":"value","type":"quantitative"},"text":{"field":"value","format":".2f"},
  "color":{"condition":{"test":"datum.series=='price'","value":"#131722"},"value":"#ffffff"}}},
{"data":{"values":[{}]},"mark":{"type":"text","align":"left","baseline":"middle","font":"Inter","fontSize":24,"color":"#131722"},
 "encoding":{"x":{"datum":2.3},"y":{"datum":711},"text":{"value":"SPDR S&P 500 ETF Trust · 1D · NYSE Arca \u00a0−7.41 (−1.08%) \u00a0Vol113.16 M"}}},
{"data":{"values":[{}]},"mark":{"type":"text","align":"left","baseline":"alphabetic","font":"Inter","fontSize":39.5,"fontWeight":600,"color":"#131722"},
 "encoding":{"x":{"datum":12.6},"y":{"datum":403.1},"text":{"value":"TradingView"}}},
{"data":{"values":[{}]},"mark":{"type":"point","shape":"M-1,-.5 L-.183,-.5 L-.183,.5 L-.61,.5 L-.61,-.2 L-1,-.2 Z M-.03,-.33 A.22,.22 0 1 1 .41,-.33 A.22,.22 0 1 1 -.03,-.33 Z M.5,-.5 L1,-.5 L.63,.5 L.12,.5 Z","filled":true,"size":3600,"color":"#131722","opacity":1,"strokeWidth":0},
 "encoding":{"x":{"datum":5.2},"y":{"datum":405.6}}}
]
}
